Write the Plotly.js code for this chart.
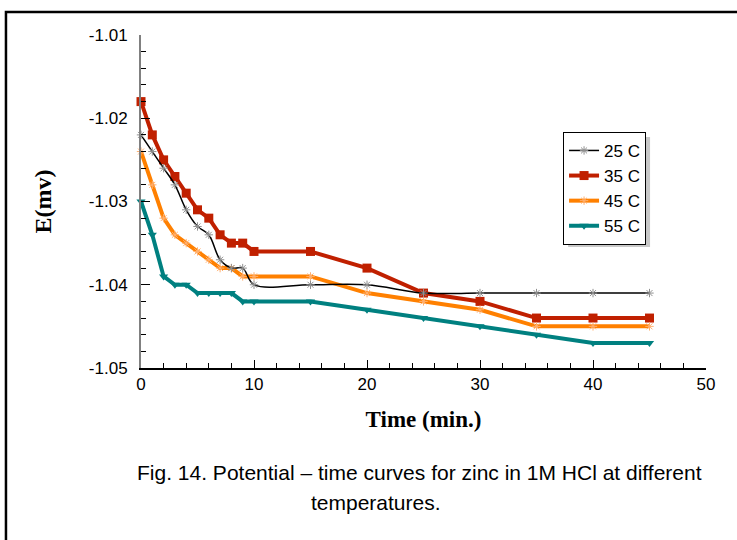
<!DOCTYPE html>
<html>
<head>
<meta charset="utf-8">
<script src="https://cdn.plot.ly/plotly-3.0.1.min.js"></script>
<style>html,body{margin:0;padding:0;background:#fff;}#chart{width:737px;height:540px;}</style>
</head>
<body>
<div id="chart"></div>
<script>
const time = [0,1,2,3,4,5,6,7,8,9,10,15,20,25,30,35,40,45];
const e25 = [-1.022,-1.024,-1.026,-1.028,-1.031,-1.033,-1.034,-1.037,-1.038,-1.038,-1.040,-1.040,-1.040,-1.041,-1.041,-1.041,-1.041,-1.041];
const e35 = [-1.018,-1.022,-1.025,-1.027,-1.029,-1.031,-1.032,-1.034,-1.035,-1.035,-1.036,-1.036,-1.038,-1.041,-1.042,-1.044,-1.044,-1.044];
const e45 = [-1.024,-1.028,-1.032,-1.034,-1.035,-1.036,-1.037,-1.038,-1.038,-1.039,-1.039,-1.039,-1.041,-1.042,-1.043,-1.045,-1.045,-1.045];
const e55 = [-1.030,-1.034,-1.039,-1.040,-1.040,-1.041,-1.041,-1.041,-1.041,-1.042,-1.042,-1.042,-1.043,-1.044,-1.045,-1.046,-1.047,-1.047];
const seriesNames = ['25 C','35 C','45 C','55 C'];
const yTickVals = [-1.05,-1.04,-1.03,-1.02,-1.01];
const yTickText = ['-1.05','-1.04','-1.03','-1.02','-1.01'];
const xTickVals = [0,10,20,30,40,50];
const xTickText = ['0','10','20','30','40','50'];
const caption1 = 'Fig. 14. Potential \u2013 time curves for zinc in 1M HCl at different';
const caption2 = 'temperatures.';

const traces = [
  {x: time, y: e35, name: seriesNames[1], legendrank: 2, mode: 'lines+markers', cliponaxis: false,
   line: {color: '#c02000', width: 4}, marker: {symbol: 'square', size: 9, color: '#c02000'}},
  {x: time, y: e45, name: seriesNames[2], legendrank: 3, mode: 'lines+markers', cliponaxis: false,
   line: {color: '#ff8000', width: 4}, marker: {symbol: 'asterisk-open', size: 7, color: '#ffb070', line: {color: '#ffb070', width: 1}}},
  {x: time, y: e55, name: seriesNames[3], legendrank: 4, mode: 'lines+markers', cliponaxis: false,
   line: {color: '#008080', width: 4}, marker: {symbol: 'triangle-down', size: 8, color: '#008080'}},
  {x: time, y: e25, name: seriesNames[0], legendrank: 1, mode: 'lines+markers', cliponaxis: false,
   line: {color: '#000000', width: 1.5, shape: 'spline', smoothing: 1}, marker: {symbol: 'asterisk-open', size: 7, color: '#909090', line: {color: '#909090', width: 1}}}
];

const layout = {
  width: 737, height: 540,
  margin: {l: 141, r: 31, t: 35, b: 172},
  paper_bgcolor: '#ffffff', plot_bgcolor: '#ffffff',
  font: {family: 'Liberation Sans, Arial, sans-serif', color: '#000'},
  showlegend: true,
  legend: {x: 0.747, y: 0.709, xanchor: 'left', yanchor: 'top', bgcolor: '#ffffff', bordercolor: '#000', borderwidth: 1,
           font: {size: 17, family: 'Liberation Sans, Arial, sans-serif'}, traceorder: 'normal'},
  xaxis: {range: [0, 50], showgrid: false, zeroline: false, showline: true, linecolor: '#000', linewidth: 1.5,
          tickmode: 'array', tickvals: xTickVals, ticktext: xTickText, ticks: 'inside', ticklen: 8, tickcolor: '#000',
          minor: {dtick: 2, ticks: 'inside', ticklen: 5, tickcolor: '#000', showgrid: false},
          tickfont: {size: 17},
          title: {text: '<b>Time (min.)</b>', font: {family: 'Liberation Serif, Times New Roman, serif', size: 23}, standoff: 18}},
  yaxis: {range: [-1.05, -1.01], showgrid: false, zeroline: false, showline: true, linecolor: '#808080', linewidth: 2,
          tickmode: 'array', tickvals: yTickVals, ticktext: yTickText, ticks: 'inside', ticklen: 9, tickcolor: '#000',
          minor: {dtick: 0.002, ticks: 'inside', ticklen: 5, tickcolor: '#000', showgrid: false},
          tickfont: {size: 17}, ticklabelstandoff: 8,
          title: {text: '<b>E(mv)</b>', font: {family: 'Liberation Serif, Times New Roman, serif', size: 24}, standoff: 30}},
  shapes: [
    {type: 'rect', xref: 'paper', yref: 'paper', x0: -0.239, x1: 1.1, y0: -0.6, y1: 1.069, line: {color: '#000', width: 2.5}, fillcolor: 'rgba(0,0,0,0)', layer: 'below'},
    {type: 'rect', xref: 'paper', yref: 'paper', x0: 0.756, x1: 0.901, y0: 0.363, y1: 0.694, line: {width: 0}, fillcolor: '#c8c8c8', layer: 'above'}
  ],
  annotations: [
    {text: caption1, xref: 'paper', yref: 'paper', x: -0.01, y: -0.315, xanchor: 'left', yanchor: 'middle', showarrow: false,
     font: {size: 21, family: 'Liberation Sans, Arial, sans-serif'}},
    {text: caption2, xref: 'paper', yref: 'paper', x: 0.297, y: -0.405, xanchor: 'left', yanchor: 'middle', showarrow: false,
     font: {size: 21, family: 'Liberation Sans, Arial, sans-serif'}}
  ]
};

Plotly.newPlot('chart', traces, layout, {displayModeBar: false, staticPlot: true});
</script>
</body>
</html>
